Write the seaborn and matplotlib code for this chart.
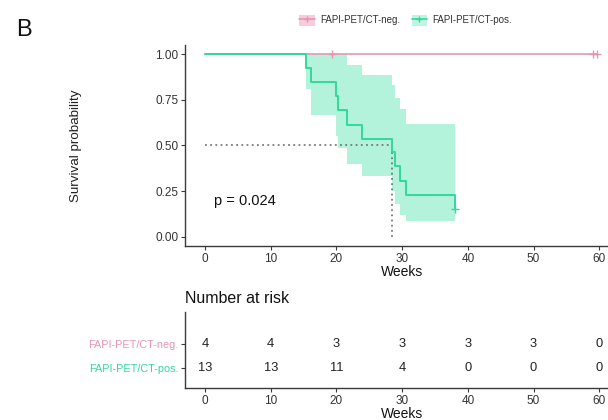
import numpy as np
import pandas as pd
import matplotlib
matplotlib.use("Agg")
import matplotlib.pyplot as plt
from matplotlib.lines import Line2D
from matplotlib.patches import Patch
import seaborn as sns

# ---------------- data ----------------
group_labels = ["FAPI-PET/CT-neg.", "FAPI-PET/CT-pos."]

neg_time = [0.0, 59.7]
neg_surv = [1.0, 1.0]
neg_censor_time = [19.4, 59.0, 59.7]
neg_censor_surv = [1.0, 1.0, 1.0]

pos_time = [0.0, 15.4, 16.2, 19.9, 20.3, 21.6, 23.9, 28.4, 28.9, 29.7, 30.6, 38.0]
pos_surv = [1.0, 0.923, 0.846, 0.769, 0.692, 0.615, 0.538, 0.462, 0.385, 0.308, 0.231, 0.154]
pos_censor_time = [38.0]
pos_censor_surv = [0.154]

band_time = [15.4, 16.2, 19.9, 20.3, 21.6, 23.9, 28.4, 28.9, 29.7, 30.6, 38.0]
band_upper = [1.0, 1.0, 1.0, 1.0, 0.94, 0.887, 0.83, 0.76, 0.70, 0.616, 0.616]
band_lower = [0.81, 0.667, 0.55, 0.485, 0.40, 0.33, 0.25, 0.18, 0.12, 0.085, 0.085]

median_time = 28.4
median_surv = 0.5
p_text = "p = 0.024"

risk_times = [0, 10, 20, 30, 40, 50, 60]
neg_risk = [4, 4, 3, 3, 3, 3, 0]
pos_risk = [13, 13, 11, 4, 0, 0, 0]

x_ticks = [0, 10, 20, 30, 40, 50, 60]
y_ticks = [0.0, 0.25, 0.5, 0.75, 1.0]
y_ticklabels = ["0.00", "0.25", "0.50", "0.75", "1.00"]

# ---------------- style ----------------
sns.set_theme(style="white")
plt.rcParams["font.family"] = ["Liberation Sans", "DejaVu Sans"]

pink = "#E597B2"
green = "#33D99B"
band_color = "#B4F3DB"
axis_col = "#3a3a3a"
text_col = "#333333"

fig = plt.figure(figsize=(6.08, 4.2), dpi=100)

# ---------------- main survival plot ----------------
ax = fig.add_axes([0.3048, 0.4148, 0.7132, 0.4776])

ax.fill_between(band_time, band_lower, band_upper, step="post",
                color=band_color, linewidth=0, zorder=1)

df_neg = pd.DataFrame({"time": neg_time, "surv": neg_surv})
df_pos = pd.DataFrame({"time": pos_time, "surv": pos_surv})

sns.lineplot(data=df_neg, x="time", y="surv", drawstyle="steps-post",
             color=pink, linewidth=1.2, ax=ax, legend=False, zorder=2)
sns.scatterplot(x=neg_censor_time, y=neg_censor_surv, marker="+", s=35,
                color=pink, linewidth=1.0, ax=ax, legend=False, zorder=3)

sns.lineplot(data=df_pos, x="time", y="surv", drawstyle="steps-post",
             color=green, linewidth=1.4, ax=ax, legend=False, zorder=4)
sns.scatterplot(x=pos_censor_time, y=pos_censor_surv, marker="+", s=35,
                color=green, linewidth=1.0, ax=ax, legend=False, zorder=5)

# median lines
ax.plot([0, median_time], [median_surv, median_surv], linestyle=(0, (1.2, 2.2)),
        color="#666666", linewidth=1.1, zorder=3)
ax.plot([median_time, median_time], [0, median_surv], linestyle=(0, (1.2, 2.2)),
        color="#666666", linewidth=1.1, zorder=3)

ax.text(1.3, 0.195, p_text, fontsize=10.5, color="#111111", va="center", ha="left")

ax.set_xlim(-3, 63)
ax.set_ylim(-0.05, 1.05)
ax.set_xticks(x_ticks)
ax.set_xticklabels([str(t) for t in x_ticks])
ax.set_yticks(y_ticks)
ax.set_yticklabels(y_ticklabels)
ax.set_xlabel("Weeks", fontsize=10, color="#111111", labelpad=0)
ax.set_ylabel("Survival probability", fontsize=9.6, color="#222222", labelpad=53)
for s in ["top", "right"]:
    ax.spines[s].set_visible(False)
for s in ["left", "bottom"]:
    ax.spines[s].set_color(axis_col)
    ax.spines[s].set_linewidth(1.0)
ax.tick_params(axis="both", which="both", direction="out", length=3, width=0.8,
               color=axis_col, labelsize=8.5, labelcolor=text_col, pad=2,
               bottom=True, left=True)
ax.grid(False)

# legend
h_neg = (Patch(facecolor="#F7CBDA", edgecolor="none"),
         Line2D([], [], color=pink, linewidth=1.2, marker="+", markersize=5))
h_pos = (Patch(facecolor="#BFF5E0", edgecolor="none"),
         Line2D([], [], color=green, linewidth=1.2, marker="+", markersize=5))
fig.legend([h_neg, h_pos], group_labels, loc="center", bbox_to_anchor=(0.667, 0.952),
           ncol=2, frameon=False, fontsize=7, handlelength=1.6, handleheight=1.4,
           handletextpad=0.5, columnspacing=1.2, labelcolor="#333333")

fig.text(0.040, 0.929, "B", fontsize=17, color="#111111", ha="center", va="center")

# ---------------- risk table ----------------
axt = fig.add_axes([0.3048, 0.0762, 0.7132, 0.181])
axt.set_xlim(-3, 63)
axt.set_ylim(0.167, 3.333)
for i, t in enumerate(risk_times):
    axt.text(t, 2, str(neg_risk[i]), ha="center", va="center", fontsize=9.3, color="#222222")
    axt.text(t, 1, str(pos_risk[i]), ha="center", va="center", fontsize=9.3, color="#222222")
axt.set_xticks(x_ticks)
axt.set_xticklabels([str(t) for t in x_ticks])
axt.set_yticks([2, 1])
axt.set_yticklabels(group_labels)
axt.set_xlabel("Weeks", fontsize=10, color="#111111", labelpad=0)
axt.set_ylabel("")
for s in ["top", "right"]:
    axt.spines[s].set_visible(False)
for s in ["left", "bottom"]:
    axt.spines[s].set_color(axis_col)
    axt.spines[s].set_linewidth(1.0)
axt.tick_params(axis="both", which="both", direction="out", length=3, width=0.8,
                color=axis_col, labelsize=8.5, labelcolor=text_col, pad=2,
                bottom=True, left=True)
for lab, col in zip(axt.get_yticklabels(), [pink, green]):
    lab.set_color(col)
    lab.set_fontsize(7.8)
axt.grid(False)

fig.text(0.304, 0.290, "Number at risk", fontsize=11.5, color="#111111",
         ha="left", va="center")

fig.savefig("out.png", dpi=100)
